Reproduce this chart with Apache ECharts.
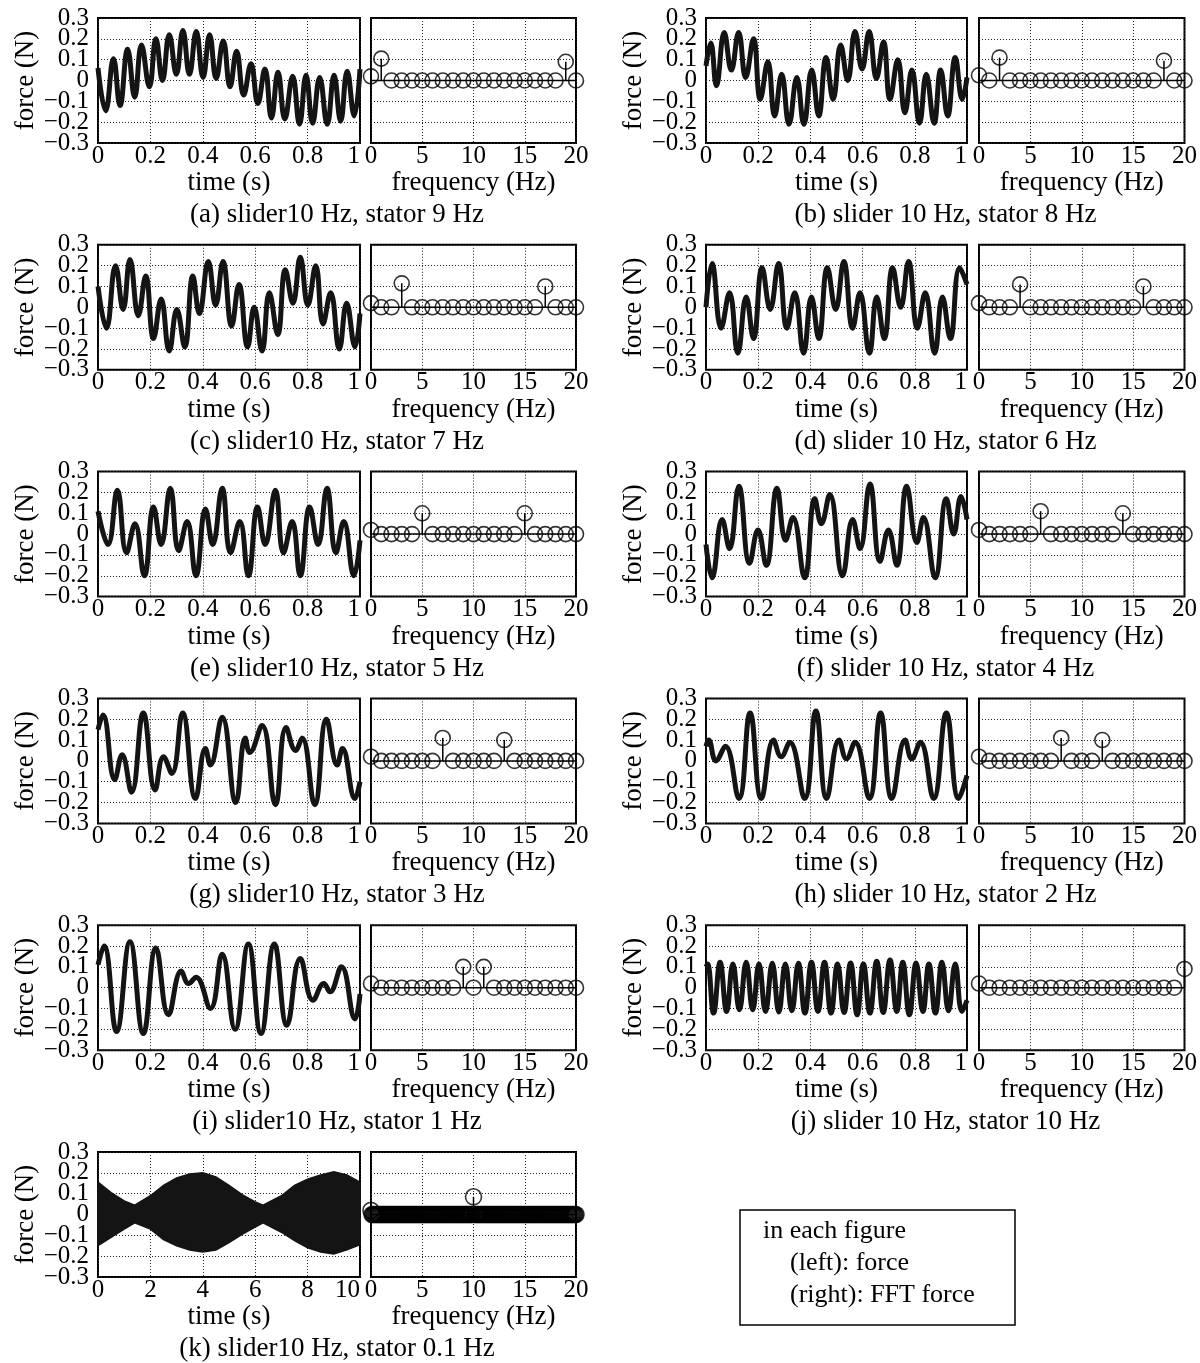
<!DOCTYPE html>
<html><head><meta charset="utf-8">
<script src="https://cdn.jsdelivr.net/npm/echarts@6/dist/echarts.min.js"></script>
<style>html,body{margin:0;padding:0;background:#fff}#c{width:1200px;height:1363px}</style>
</head><body><div id="c"></div>
<script>
// ---------- time-domain force, extrema: [time s, force N] ----------
const timeA = [[0,0.06],[0.029,-0.145],[0.059,0.105],[0.084,-0.12],[0.113,0.15],[0.14,-0.08],[0.166,0.17],[0.196,-0.03],[0.221,0.2],[0.246,0.0],[0.272,0.22],[0.299,0.03],[0.324,0.24],[0.349,0.03],[0.375,0.235],[0.401,0.015],[0.426,0.22],[0.451,0.01],[0.478,0.19],[0.504,-0.03],[0.529,0.14],[0.556,-0.07],[0.584,0.08],[0.61,-0.11],[0.637,0.055],[0.662,-0.18],[0.687,0.04],[0.713,-0.185],[0.743,0.02],[0.769,-0.21],[0.794,0.025],[0.819,-0.205],[0.846,0.015],[0.875,-0.21],[0.901,0.025],[0.926,-0.195],[0.951,0.045],[0.978,-0.17],[1.0,0.055]];
const timeB = [[0,0.07],[0.018,0.18],[0.04,-0.025],[0.07,0.23],[0.097,0.05],[0.125,0.23],[0.152,0.015],[0.182,0.2],[0.208,-0.09],[0.237,0.09],[0.263,-0.17],[0.29,0.03],[0.318,-0.21],[0.348,0.015],[0.375,-0.21],[0.405,0.05],[0.432,-0.17],[0.46,0.11],[0.487,-0.09],[0.516,0.17],[0.543,0.0],[0.571,0.235],[0.598,0.055],[0.625,0.235],[0.653,0.01],[0.68,0.185],[0.705,-0.09],[0.735,0.1],[0.762,-0.155],[0.789,0.05],[0.818,-0.205],[0.844,0.03],[0.874,-0.205],[0.899,0.05],[0.926,-0.17],[0.955,0.11],[0.982,-0.09],[1.0,0.015]];
const timeC = [[0,0.1],[0.032,-0.1],[0.067,0.2],[0.096,-0.01],[0.122,0.23],[0.154,-0.04],[0.182,0.15],[0.212,-0.15],[0.241,0.04],[0.272,-0.21],[0.301,-0.01],[0.331,-0.19],[0.362,0.15],[0.387,-0.03],[0.421,0.22],[0.449,0.01],[0.477,0.22],[0.51,-0.09],[0.538,0.11],[0.571,-0.19],[0.596,0.0],[0.626,-0.21],[0.654,0.07],[0.686,-0.13],[0.715,0.18],[0.744,0.02],[0.772,0.24],[0.801,0.01],[0.831,0.2],[0.859,-0.08],[0.888,0.07],[0.921,-0.2],[0.949,0.02],[0.981,-0.19],[1.0,-0.03]];
const timeD = [[0,0.0],[0.023,0.21],[0.058,-0.1],[0.09,0.07],[0.122,-0.22],[0.154,0.05],[0.182,-0.15],[0.215,0.19],[0.246,-0.01],[0.278,0.21],[0.31,-0.1],[0.34,0.07],[0.374,-0.22],[0.404,0.05],[0.432,-0.15],[0.465,0.19],[0.497,-0.01],[0.528,0.22],[0.562,-0.1],[0.59,0.07],[0.626,-0.22],[0.654,0.05],[0.683,-0.15],[0.715,0.19],[0.746,0.0],[0.776,0.22],[0.81,-0.1],[0.84,0.07],[0.876,-0.22],[0.906,0.05],[0.936,-0.15],[0.972,0.19],[1.0,0.11]];
const timeE = [[0,0.11],[0.038,-0.05],[0.074,0.21],[0.109,-0.09],[0.141,0.05],[0.177,-0.2],[0.212,0.13],[0.241,-0.05],[0.276,0.22],[0.308,-0.08],[0.34,0.06],[0.374,-0.2],[0.41,0.12],[0.438,-0.05],[0.474,0.22],[0.506,-0.09],[0.541,0.06],[0.574,-0.2],[0.609,0.13],[0.638,-0.05],[0.677,0.21],[0.708,-0.09],[0.741,0.06],[0.772,-0.2],[0.808,0.13],[0.84,-0.05],[0.874,0.22],[0.908,-0.09],[0.938,0.06],[0.977,-0.2],[1.0,-0.03]];
const timeF = [[0,-0.05],[0.023,-0.21],[0.062,0.07],[0.09,-0.07],[0.126,0.23],[0.167,-0.14],[0.199,0.02],[0.231,-0.15],[0.272,0.22],[0.305,-0.03],[0.333,0.08],[0.378,-0.21],[0.417,0.17],[0.442,0.05],[0.474,0.19],[0.523,-0.2],[0.562,0.07],[0.59,-0.07],[0.628,0.24],[0.667,-0.13],[0.699,0.02],[0.731,-0.15],[0.769,0.23],[0.808,-0.04],[0.833,0.08],[0.878,-0.21],[0.921,0.17],[0.949,0.0],[0.977,0.18],[1.0,0.07]];
const timeG = [[0,0.15],[0.019,0.22],[0.064,-0.09],[0.092,0.03],[0.128,-0.15],[0.173,0.23],[0.218,-0.14],[0.25,0.02],[0.282,-0.06],[0.323,0.23],[0.372,-0.18],[0.41,0.06],[0.429,-0.02],[0.474,0.21],[0.526,-0.2],[0.562,0.11],[0.579,0.04],[0.626,0.17],[0.677,-0.21],[0.718,0.16],[0.754,0.05],[0.779,0.11],[0.827,-0.21],[0.872,0.2],[0.913,-0.02],[0.933,0.06],[0.981,-0.18],[1.0,-0.1]];
const timeH = [[0,0.07],[0.01,0.1],[0.038,0.0],[0.074,0.07],[0.126,-0.18],[0.169,0.23],[0.212,-0.18],[0.259,0.1],[0.288,0.02],[0.321,0.09],[0.378,-0.18],[0.421,0.24],[0.462,-0.18],[0.51,0.1],[0.538,0.01],[0.571,0.09],[0.626,-0.18],[0.669,0.23],[0.712,-0.18],[0.763,0.1],[0.788,0.01],[0.821,0.09],[0.872,-0.18],[0.921,0.23],[0.968,-0.18],[1.0,-0.07]];
const timeI = [[0,0.11],[0.023,0.2],[0.071,-0.21],[0.122,0.22],[0.173,-0.22],[0.221,0.19],[0.269,-0.13],[0.318,0.08],[0.346,0.02],[0.374,0.05],[0.429,-0.1],[0.474,0.16],[0.523,-0.2],[0.574,0.21],[0.622,-0.22],[0.673,0.21],[0.721,-0.18],[0.772,0.14],[0.821,-0.06],[0.862,0.02],[0.885,-0.02],[0.929,0.1],[0.981,-0.15],[1.0,-0.03]];
const timeJ = [[0,0.1],[0.006,0.114],[0.029,-0.122],[0.054,0.122],[0.079,-0.114],[0.103,0.114],[0.128,-0.106],[0.154,0.122],[0.179,-0.106],[0.203,0.114],[0.228,-0.114],[0.254,0.117],[0.279,-0.117],[0.304,0.114],[0.329,-0.111],[0.354,0.117],[0.379,-0.122],[0.404,0.122],[0.429,-0.114],[0.454,0.122],[0.479,-0.122],[0.504,0.114],[0.529,-0.119],[0.554,0.119],[0.579,-0.13],[0.603,0.114],[0.628,-0.122],[0.654,0.127],[0.679,-0.119],[0.705,0.133],[0.731,-0.114],[0.754,0.122],[0.779,-0.13],[0.805,0.119],[0.831,-0.114],[0.854,0.114],[0.879,-0.122],[0.904,0.122],[0.929,-0.111],[0.955,0.114],[0.981,-0.114],[1.0,-0.06]];
// (k): 10 s record, too dense to resolve; its envelope
const kUpper = [[0,0.155],[0.5,0.105],[1,0.065],[1.4,0.045],[2,0.09],[2.5,0.14],[3,0.175],[3.5,0.195],[4,0.2],[4.5,0.18],[5,0.14],[5.5,0.095],[6,0.06],[6.3,0.045],[7,0.09],[7.5,0.14],[8,0.17],[8.5,0.19],[9,0.205],[9.5,0.19],[10,0.155]];
const kLower = [[0,-0.15],[0.5,-0.11],[1,-0.07],[1.4,-0.04],[2,-0.07],[2.5,-0.12],[3,-0.15],[3.5,-0.17],[4,-0.18],[4.5,-0.17],[5,-0.135],[5.5,-0.095],[6,-0.06],[6.3,-0.04],[7,-0.085],[7.5,-0.125],[8,-0.16],[8.5,-0.18],[9,-0.19],[9.5,-0.17],[10,-0.145]];

// ---------- FFT magnitude at 0..20 Hz (1 Hz bins) ----------
const fftA = [0.02,0.105,0,0,0,0,0,0,0,0,0,0,0,0,0,0,0,0,0,0.09,0];
const fftB = [0.025,0,0.11,0,0,0,0,0,0,0,0,0,0,0,0,0,0,0,0.095,0,0];
const fftC = [0.02,0,0,0.115,0,0,0,0,0,0,0,0,0,0,0,0,0,0.1,0,0,0];
const fftD = [0.02,0,0,0,0.11,0,0,0,0,0,0,0,0,0,0,0,0.1,0,0,0,0];
const fftE = [0.02,0,0,0,0,0.1,0,0,0,0,0,0,0,0,0,0.1,0,0,0,0,0];
const fftF = [0.02,0,0,0,0,0,0.11,0,0,0,0,0,0,0,0.1,0,0,0,0,0,0];
const fftG = [0.02,0,0,0,0,0,0,0.11,0,0,0,0,0,0.1,0,0,0,0,0,0,0];
const fftH = [0.02,0,0,0,0,0,0,0,0.11,0,0,0,0.1,0,0,0,0,0,0,0,0];
const fftI = [0.02,0,0,0,0,0,0,0,0,0.1,0,0.1,0,0,0,0,0,0,0,0,0];
const fftJ = [0.02,0,0,0,0,0,0,0,0,0,0,0,0,0,0,0,0,0,0,0,0.09];
// (k): 0.1 Hz bins; all ~0 except these
const fftKPeaks = [[0,0.02],[10,0.085]];
const fftKStep = 0.1;

const captions = [
  '(a) slider10 Hz, stator 9 Hz','(b) slider 10 Hz, stator 8 Hz',
  '(c) slider10 Hz, stator 7 Hz','(d) slider 10 Hz, stator 6 Hz',
  '(e) slider10 Hz, stator 5 Hz','(f) slider 10 Hz, stator 4 Hz',
  '(g) slider10 Hz, stator 3 Hz','(h) slider 10 Hz, stator 2 Hz',
  '(i) slider10 Hz, stator 1 Hz','(j) slider 10 Hz, stator 10 Hz',
  '(k) slider10 Hz, stator 0.1 Hz'];
const legendLines = ['in each figure','(left): force','(right): FFT force'];

const timeSets = [timeA,timeB,timeC,timeD,timeE,timeF,timeG,timeH,timeI,timeJ,null];
const fftSets = [fftA,fftB,fftC,fftD,fftE,fftF,fftG,fftH,fftI,fftJ,null];

// ---------- build ----------
const FONT = '"Liberation Serif", "DejaVu Serif", serif';
const TICK = 25, NAME = 27, CAP = 27;
const cols = [{t:98,tw:262,f:371,fw:205},{t:706,tw:261,f:979,fw:206}];
const grid=[], xAxis=[], yAxis=[], series=[], graphic=[];

function fmt(v){ const r = Math.round(v*10)/10; return r<0 ? '\u2212'+Math.abs(r) : String(r===0?0:r); }
const split = {show:true, lineStyle:{type:[1,2], color:'#222', width:1}};
function xAx(gi, max, interval, name, isTime){
  return {gridIndex:gi, type:'value', min:0, max, interval, name, nameLocation:'middle', nameGap:26,
    nameTextStyle:{fontFamily:FONT, fontSize:NAME, color:'#000'},
    axisLine:{show:false}, axisTick:{show:false},
    axisLabel:{fontFamily:FONT, fontSize:TICK, color:'#000', margin:3, lineHeight:20, formatter:fmt,
      showMinLabel:true, showMaxLabel:true, alignMaxLabel: isTime ? 'right' : 'center'},
    splitLine:split};
}
// main force axis: grid lines and the inner tick labels
function yAx(gi, labels){
  return {gridIndex:gi, type:'value', min:-0.3, max:0.3, interval:0.1,
    name: labels ? 'force (N)' : '', nameLocation:'middle', nameGap:56,
    nameTextStyle:{fontFamily:FONT, fontSize:NAME, color:'#000'},
    axisLine:{show:false}, axisTick:{show:false},
    axisLabel:{show:labels, fontFamily:FONT, fontSize:TICK, color:'#000', margin:9, formatter:fmt,
      showMinLabel:false, showMaxLabel:false},
    splitLine:split};
}
// companion axis on the same scale that carries the two end labels (-0.3, 0.3)
function yAxEnds(gi){
  return {gridIndex:gi, type:'value', min:-0.3, max:0.3, interval:0.6, position:'left',
    axisLine:{show:false}, axisTick:{show:false}, splitLine:{show:false},
    axisLabel:{fontFamily:FONT, fontSize:TICK, color:'#000', margin:9, formatter:fmt, showMinLabel:true, showMaxLabel:true}};
}

captions.forEach((cap,i)=>{
  const c = cols[i%2], row = Math.floor(i/2);
  const top = 18 + row*226.8, h = 125;
  const gi = grid.length;
  grid.push({left:c.t, top, width:c.tw, height:h, show:true, borderColor:'#000', borderWidth:2, backgroundColor:'transparent'});
  grid.push({left:c.f, top, width:c.fw, height:h, show:true, borderColor:'#000', borderWidth:2, backgroundColor:'transparent'});
  const isK = i===10;
  const xt = xAxis.length; xAxis.push(xAx(gi, isK?10:1, isK?2:0.2, 'time (s)', true));
  const xf = xAxis.length; xAxis.push(xAx(gi+1, 20, 5, 'frequency (Hz)', false));
  const yt = yAxis.length; yAxis.push(yAx(gi, true)); yAxis.push(yAxEnds(gi));
  const yf = yAxis.length; yAxis.push(yAx(gi+1, false));

  if (!isK) {
    series.push({type:'line', xAxisIndex:xt, yAxisIndex:yt, data:timeSets[i], symbol:'none', smooth:0.45,
      lineStyle:{color:'#141414', width:5}, silent:true, z:3});
  } else {
    series.push({type:'custom', xAxisIndex:xt, yAxisIndex:yt, data:[[0,0]], silent:true, z:3,
      renderItem:(params, api)=>{
        const pts = kUpper.map(d=>api.coord(d)).concat(kLower.slice().reverse().map(d=>api.coord(d)));
        return {type:'polygon', shape:{points:pts}, style:{fill:'#141414', stroke:'#141414', lineWidth:1.5}};
      }});
  }

  let pts;
  if (!isK) pts = fftSets[i].map((v,f)=>[f,v]);
  else {
    pts = [];
    for (let n=0; n<=Math.round(20/fftKStep); n++){
      const f = +(n*fftKStep).toFixed(1);
      const pk = fftKPeaks.find(p=>Math.abs(p[0]-f)<1e-9);
      pts.push([f, pk ? pk[1] : 0]);
    }
  }
  series.push({type:'line', xAxisIndex:xf, yAxisIndex:yf, data:[[0,0],[20,0]], symbol:'none',
    lineStyle:{color:'#000', width:1.5}, silent:true, z:2});
  series.push({type:'custom', xAxisIndex:xf, yAxisIndex:yf, data:pts.filter(p=>p[1]!==0), silent:true, clip:false, z:3,
    renderItem:(params, api)=>{
      const a = api.coord([api.value(0),0]), b = api.coord([api.value(0),api.value(1)]);
      return {type:'line', shape:{x1:a[0],y1:a[1],x2:b[0],y2:b[1]}, style:{stroke:'#000', lineWidth:1.5}};
    }});
  series.push({type:'scatter', xAxisIndex:xf, yAxisIndex:yf, data:pts, symbol:'circle', symbolSize:isK?16:15,
    itemStyle:{color:'rgba(255,255,255,0)', borderColor:'#000', borderWidth:1.6}, clip:false, silent:true, z:4});

  graphic.push({type:'text', x:(c.t + c.f + c.fw)/2, y: top + 197,
    style:{text:cap, fontFamily:FONT, fontSize:CAP, fill:'#000', align:'center', verticalAlign:'middle', textAlign:'center', textVerticalAlign:'middle'}});
});

// legend box
graphic.push({type:'rect', shape:{x:740, y:1210, width:275, height:115}, style:{fill:'none', stroke:'#000', lineWidth:1.5}});
const legPos = [[763,1231],[790,1263],[790,1295]];
legendLines.forEach((t,k)=>{
  graphic.push({type:'text', x:legPos[k][0], y:legPos[k][1],
    style:{text:t, fontFamily:FONT, fontSize:26, fill:'#000', align:'left', verticalAlign:'middle', textAlign:'left', textVerticalAlign:'middle'}});
});

const chart = echarts.init(document.getElementById('c'), null, {renderer:'canvas'});
chart.setOption({animation:false, backgroundColor:'#fff', grid, xAxis, yAxis, series, graphic});
</script></body></html>
